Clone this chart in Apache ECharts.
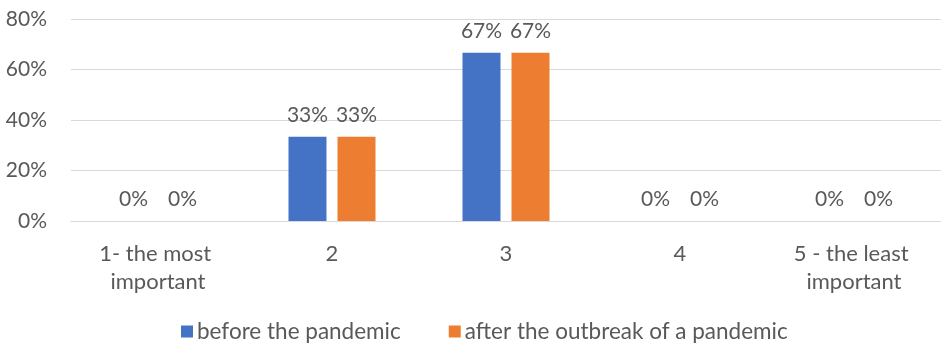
<!DOCTYPE html>
<html><head><meta charset="utf-8">
<script src="https://cdn.jsdelivr.net/npm/echarts@6/dist/echarts.min.js"></script>
<style>html,body{margin:0;padding:0;background:#fff}#c{width:941px;height:347px}</style>
</head><body><div id="c"></div>
<script>
const categories = ["1- the most important", "2", "3", "4", "5 - the least important"];
const seriesNames = ["before the pandemic", "after the outbreak of a pandemic"];
const before = [0, 33.33, 66.67, 0, 0];
const after = [0, 33.33, 66.67, 0, 0];
const yTicks = [0, 20, 40, 60, 80];

const FONT = "Lato";
const TXT = "#595959";
const FS = 21;
const chart = echarts.init(document.getElementById('c'));
const lbl = {
  show: true, position: 'top', distance: 11,
  fontFamily: FONT, fontSize: FS, color: TXT,
  formatter: p => Math.round(p.value) + '%'
};
chart.setOption({
  animation: false,
  textStyle: { fontFamily: FONT },
  grid: { left: 71, right: 0, top: 19, bottom: 126, containLabel: false },
  legend: {
    left: 181, top: 320, padding: 0, itemWidth: 12, itemHeight: 12, itemGap: 48,
    icon: 'rect',
    textStyle: { fontFamily: FONT, fontSize: 22.5, color: TXT, padding: [0, 0, 0, -1] },
    data: seriesNames
  },
  xAxis: {
    type: 'category', data: categories,
    axisLine: { show: true, lineStyle: { color: '#D9D9D9', width: 1 } },
    axisTick: { show: false },
    axisLabel: { fontFamily: FONT, fontSize: 22, color: TXT, margin: 19, lineHeight: 28, width: 150, overflow: 'break', interval: 0 }
  },
  yAxis: {
    type: 'value', min: yTicks[0], max: yTicks[yTicks.length - 1], interval: 20,
    axisLine: { show: false }, axisTick: { show: false },
    splitLine: { lineStyle: { color: '#D9D9D9', width: 1 } },
    axisLabel: { fontFamily: FONT, fontSize: FS, color: TXT, margin: 24, formatter: v => v + '%' }
  },
  series: [
    { name: seriesNames[0], type: 'bar', data: before, barWidth: 38, barGap: '29%', itemStyle: { color: '#4472C4' }, label: lbl },
    { name: seriesNames[1], type: 'bar', data: after, barWidth: 38, barGap: '29%', itemStyle: { color: '#ED7D31' }, label: lbl }
  ]
});
</script></body></html>
